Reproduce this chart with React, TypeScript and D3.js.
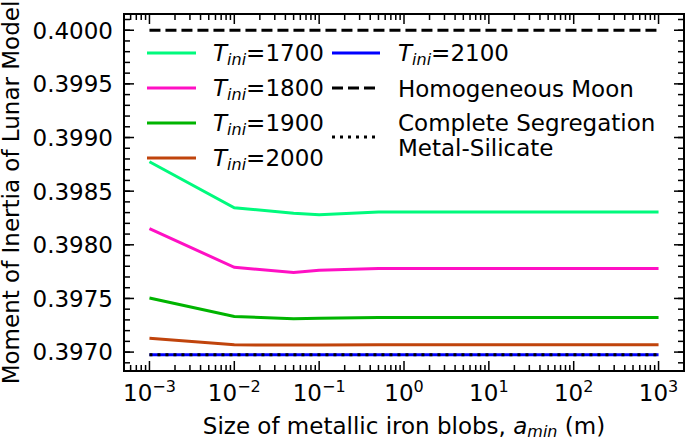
import React from "react";
import * as d3 from "d3";

// ---- data ----
const sizes = [0.001, 0.01, 0.05, 0.1, 0.5, 1, 10, 100, 1000];
const t1700 = [0.398774, 0.398345, 0.398295, 0.39828, 0.398305, 0.398305, 0.398305, 0.398305, 0.398305];
const t1800 = [0.398151, 0.39779, 0.397743, 0.397763, 0.397778, 0.397778, 0.397778, 0.397778, 0.397778];
const t1900 = [0.397504, 0.397332, 0.397311, 0.397316, 0.397323, 0.397323, 0.397323, 0.397323, 0.397323];
const t2000 = [0.397128, 0.397068, 0.397065, 0.397067, 0.397068, 0.397068, 0.397068, 0.397068, 0.397068];
const t2100 = [0.396975, 0.396975, 0.396975, 0.396975, 0.396975, 0.396975, 0.396975, 0.396975, 0.396975];
const homogeneous = [0.4, 0.4, 0.4, 0.4, 0.4, 0.4, 0.4, 0.4, 0.4];
const segregation = [0.396975, 0.396975, 0.396975, 0.396975, 0.396975, 0.396975, 0.396975, 0.396975, 0.396975];

const seriesNames = ["1700", "1800", "1900", "2000", "2100"];
const seriesColors = ["#00fa7d", "#ff10c4", "#00b400", "#c0440c", "#0000ff"];
const seriesValues = [t1700, t1800, t1900, t2000, t2100];
const yTickLabels = ["0.3970", "0.3975", "0.3980", "0.3985", "0.3990", "0.3995", "0.4000"];
const xTickExponents = [-3, -2, -1, 0, 1, 2, 3];

const FONT = "DejaVu Sans";
const FS = 23;
const SUB = 16;

export default function App() {
  const W = 685, H = 441;
  const L = 124, R = 684, T = 14, B = 371;

  const xExt = d3.extent(sizes) as [number, number];
  const lx0 = Math.log10(xExt[0]), lx1 = Math.log10(xExt[1]);
  const lpad = (lx1 - lx0) * 0.05;
  const x = d3.scaleLog().domain([Math.pow(10, lx0 - lpad), Math.pow(10, lx1 + lpad)]).range([L, R]);

  const allY = [...t1700, ...t1800, ...t1900, ...t2000, ...t2100, ...homogeneous, ...segregation];
  const yExt = d3.extent(allY) as [number, number];
  const ypad = (yExt[1] - yExt[0]) * 0.05;
  const y = d3.scaleLinear().domain([yExt[0] - ypad, yExt[1] + ypad]).range([B, T]);

  const line = d3.line<number>().x((_, i) => x(sizes[i])).y((v) => y(v));

  // minor ticks
  const [dx0, dx1] = x.domain();
  const xMinor: number[] = [];
  for (let e = Math.floor(Math.log10(dx0)); e <= Math.ceil(Math.log10(dx1)); e++) {
    for (let k = 2; k <= 9; k++) {
      const v = k * Math.pow(10, e);
      if (v > dx0 && v < dx1) xMinor.push(v);
    }
  }
  const [dy0, dy1] = y.domain();
  const yMinor: number[] = [];
  for (let i = Math.ceil(dy0 * 10000 - 1e-9); i <= Math.floor(dy1 * 10000 + 1e-9); i++) {
    yMinor.push(i / 10000);
  }
  const majLen = 10, minLen = 6;

  const Tini = (label: string, xx: number, yy: number) => (
    <text x={xx} y={yy} fontFamily={FONT} fontSize={FS} fill="#000">
      <tspan fontStyle="italic">T</tspan>
      <tspan fontStyle="italic" fontSize={SUB} dy={4}>ini</tspan>
      <tspan dy={-4}>={label}</tspan>
    </text>
  );

  const legendRows1 = [0, 1, 2, 3];
  const legendRowY = [53, 88, 123, 158];

  return (
    <svg width={W} height={H} style={{ display: "block", position: "absolute", left: 0, top: 0 }}>
      <rect x={0} y={0} width={W} height={H} fill="#fff" />
      {/* data lines */}
      {seriesValues.map((vals, i) => (
        <path key={i} d={line(vals) || ""} fill="none" stroke={seriesColors[i]} strokeWidth={3} />
      ))}
      <path d={line(homogeneous) || ""} fill="none" stroke="#000" strokeWidth={3} strokeDasharray="11,5" />
      <path d={line(segregation) || ""} fill="none" stroke="#000" strokeWidth={3} strokeDasharray="3,5" />

      {/* ticks */}
      {xMinor.map((v, i) => (
        <g key={"xm" + i} stroke="#000" strokeWidth={1.5}>
          <line x1={x(v)} x2={x(v)} y1={B} y2={B - minLen} />
          <line x1={x(v)} x2={x(v)} y1={T} y2={T + minLen} />
        </g>
      ))}
      {xTickExponents.map((e) => {
        const v = Math.pow(10, e);
        return (
          <g key={"xM" + e}>
            <line x1={x(v)} x2={x(v)} y1={B} y2={B - majLen} stroke="#000" strokeWidth={1.5} />
            <line x1={x(v)} x2={x(v)} y1={T} y2={T + majLen} stroke="#000" strokeWidth={1.5} />
            <text x={x(v)} y={401} textAnchor="middle" fontFamily={FONT} fontSize={FS} fill="#000">
              10
              <tspan fontSize={SUB} dy={-9}>{e < 0 ? "\u2212" + Math.abs(e) : String(e)}</tspan>
            </text>
          </g>
        );
      })}
      {yMinor.map((v, i) => (
        <g key={"ym" + i} stroke="#000" strokeWidth={1.5}>
          <line x1={L} x2={L + minLen} y1={y(v)} y2={y(v)} />
          <line x1={R} x2={R - minLen} y1={y(v)} y2={y(v)} />
        </g>
      ))}
      {yTickLabels.map((lab) => {
        const v = +lab;
        return (
          <g key={"yM" + lab}>
            <line x1={L} x2={L + majLen} y1={y(v)} y2={y(v)} stroke="#000" strokeWidth={1.5} />
            <line x1={R} x2={R - majLen} y1={y(v)} y2={y(v)} stroke="#000" strokeWidth={1.5} />
            <text x={113} y={y(v) + 8.4} textAnchor="end" fontFamily={FONT} fontSize={FS} fill="#000">
              {lab}
            </text>
          </g>
        );
      })}

      {/* frame */}
      <rect x={L} y={T} width={R - L} height={B - T} fill="none" stroke="#000" strokeWidth={2} />

      {/* axis labels */}
      <text x={(L + R) / 2} y={434} textAnchor="middle" fontFamily={FONT} fontSize={FS} fill="#000">
        Size of metallic iron blobs,{" "}
        <tspan fontStyle="italic">a</tspan>
        <tspan fontStyle="italic" fontSize={SUB} dy={3}>min</tspan>
        <tspan dy={-3}> (m)</tspan>
      </text>
      <text
        transform={`translate(18.5,${(T + B) / 2}) rotate(-90)`}
        textAnchor="middle"
        fontFamily={FONT}
        fontSize={FS}
        fill="#000"
      >
        Moment of Inertia of Lunar Model
      </text>

      {/* legend */}
      {legendRows1.map((i) => (
        <g key={"lg" + i}>
          <line x1={147} x2={196} y1={legendRowY[i]} y2={legendRowY[i]} stroke={seriesColors[i]} strokeWidth={3} />
          {Tini(seriesNames[i], 213, legendRowY[i] + 8.4)}
        </g>
      ))}
      <line x1={332} x2={380} y1={53} y2={53} stroke={seriesColors[4]} strokeWidth={3} />
      {Tini(seriesNames[4], 398, 53 + 8.4)}
      <line x1={332} x2={380} y1={88} y2={88} stroke="#000" strokeWidth={3} strokeDasharray="11,5" />
      <text x={398} y={96.5} fontFamily={FONT} fontSize={FS} fill="#000">Homogeneous Moon</text>
      <line x1={332} x2={380} y1={137} y2={137} stroke="#000" strokeWidth={3} strokeDasharray="3,5" />
      <text x={398} y={131} fontFamily={FONT} fontSize={FS} fill="#000">Complete Segregation</text>
      <text x={398} y={156} fontFamily={FONT} fontSize={FS} fill="#000">Metal-Silicate</text>
    </svg>
  );
}
